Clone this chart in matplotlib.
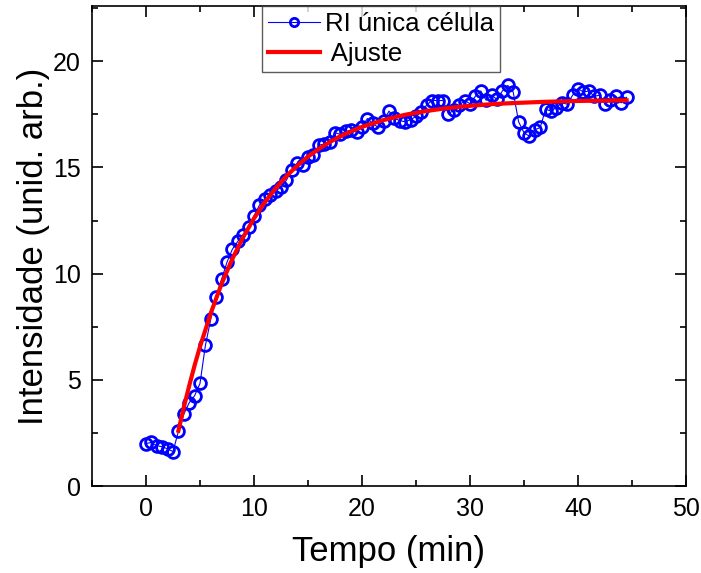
import matplotlib
matplotlib.use("Agg")
import matplotlib.pyplot as plt
from matplotlib.ticker import MultipleLocator

plt.rcParams['font.family'] = ['Liberation Sans', 'DejaVu Sans']

tempo = [0.0, 0.5, 1.0, 1.5, 2.0, 2.5, 3.0, 3.5, 4.0, 4.5,
         5.0, 5.5, 6.0, 6.5, 7.0, 7.5, 8.0, 8.5, 9.0, 9.5,
         10.0, 10.5, 11.0, 11.5, 12.0, 12.5, 13.0, 13.5, 14.0, 14.5,
         15.0, 15.5, 16.0, 16.5, 17.0, 17.5, 18.0, 18.5, 19.0, 19.5,
         20.0, 20.5, 21.0, 21.5, 22.0, 22.5, 23.0, 23.5, 24.0, 24.5,
         25.0, 25.5, 26.0, 26.5, 27.0, 27.5, 28.0, 28.5, 29.0, 29.5,
         30.0, 30.5, 31.0, 31.5, 32.0, 32.5, 33.0, 33.5, 34.0, 34.5,
         35.0, 35.5, 36.0, 36.5, 37.0, 37.5, 38.0, 38.5, 39.0, 39.5,
         40.0, 40.5, 41.0, 41.5, 42.0, 42.5, 43.0, 43.5, 44.0, 44.5]
intensidade = [2.00, 2.05, 1.90, 1.85, 1.75, 1.62, 2.57, 3.38, 3.92, 4.25,
               4.83, 6.62, 7.86, 8.91, 9.74, 10.54, 11.15, 11.52, 11.83, 12.18,
               12.72, 13.22, 13.50, 13.70, 13.90, 14.06, 14.40, 14.90, 15.20, 15.10,
               15.50, 15.60, 16.05, 16.10, 16.20, 16.64, 16.55, 16.70, 16.75, 16.67,
               16.90, 17.30, 17.07, 16.88, 17.19, 17.65, 17.32, 17.20, 17.15, 17.25,
               17.40, 17.60, 17.95, 18.15, 18.15, 18.15, 17.52, 17.70, 17.92, 18.15,
               18.00, 18.35, 18.60, 18.16, 18.40, 18.20, 18.60, 18.86, 18.55, 17.15,
               16.63, 16.47, 16.77, 16.88, 17.73, 17.66, 17.82, 18.04, 17.98, 18.40,
               18.71, 18.55, 18.60, 18.35, 18.40, 17.98, 18.16, 18.35, 18.04, 18.30]

ajuste_t = [3.0, 3.5, 4.0, 4.5, 5.0, 6.0, 7.0, 8.0, 9.0, 10.0,
            11.0, 12.0, 13.0, 14.0, 15.0, 16.0, 17.0, 18.0, 19.0, 20.0,
            22.0, 24.0, 26.0, 28.0, 30.0, 32.0, 34.0, 37.0, 40.0, 44.5]
ajuste_v = [2.60, 3.70, 4.72, 5.68, 6.56, 8.14, 9.52, 10.70, 11.72, 12.60,
            13.36, 14.02, 14.59, 15.08, 15.51, 15.87, 16.19, 16.47, 16.70, 16.91,
            17.23, 17.48, 17.66, 17.80, 17.90, 17.98, 18.03, 18.09, 18.13, 18.16]

fig = plt.figure(figsize=(7.01, 5.73), dpi=100)
ax = fig.add_axes([92/701, 87/573, 594/701, 480/573])

ax.plot(tempo, intensidade, color='#0000ff', lw=0.8, marker='o', ms=8.5,
        mfc='none', mec='#0000ff', mew=2.0, label='RI única célula', zorder=2)
ax.plot(ajuste_t, ajuste_v, color='#ff0000', lw=3.0, label=' Ajuste', zorder=3)

ax.set_xlim(-5, 50)
ax.set_ylim(0, 22.6)
ax.xaxis.set_major_locator(MultipleLocator(10))
ax.xaxis.set_minor_locator(MultipleLocator(5))
ax.yaxis.set_major_locator(MultipleLocator(5))
ax.yaxis.set_minor_locator(MultipleLocator(2.5))
ax.tick_params(which='both', direction='in', top=True, right=True,
               labelsize=18, width=1.2, pad=8)
ax.tick_params(which='major', length=8)
ax.tick_params(which='minor', length=4.5)
for s in ax.spines.values():
    s.set_linewidth(1.2)

ax.set_xlabel('Tempo (min)', fontsize=25, labelpad=10)
ax.set_ylabel('Intensidade (unid. arb.)', fontsize=25, labelpad=2)

leg = ax.legend(loc='upper left', bbox_to_anchor=((262-92)/594, 1.0),
                borderaxespad=0, fontsize=18.5, frameon=True, fancybox=False,
                edgecolor='#333333', handlelength=2.0, handletextpad=0.2,
                borderpad=0.25, labelspacing=0.2, markerscale=0.7)
leg.get_frame().set_linewidth(1.0)

fig.savefig('out.png', dpi=100)
